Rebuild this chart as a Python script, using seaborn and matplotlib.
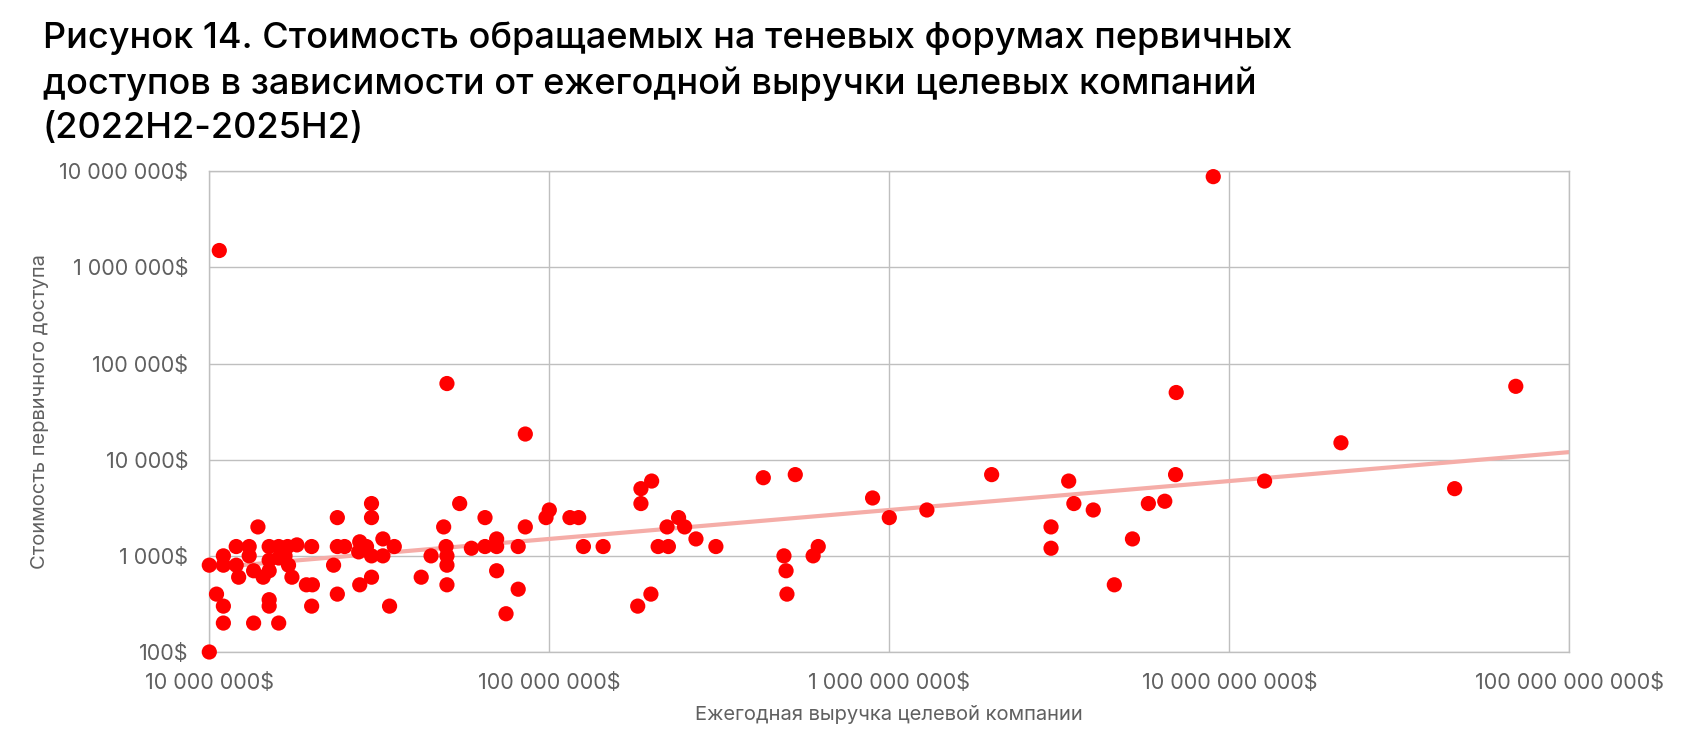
import numpy as np
import pandas as pd
import matplotlib
matplotlib.use("Agg")
import matplotlib.pyplot as plt
import seaborn as sns

# Annual revenue of target company ($) and price of initial access ($)
revenue = [
    1.0e7, 1.0e7, 1.05e7, 1.07e7, 1.1e7, 1.1e7, 1.1e7, 1.1e7, 1.2e7, 1.2e7,
    1.22e7, 1.31e7, 1.31e7, 1.39e7, 1.35e7, 1.35e7, 1.44e7, 1.5e7, 1.5e7, 1.5e7,
    1.5e7, 1.5e7, 1.6e7, 1.6e7, 1.6e7, 1.67e7, 1.71e7, 1.75e7, 1.7e7, 1.81e7,
    2.0e7, 1.93e7, 2.01e7, 2.0e7, 2.32e7, 2.38e7, 2.38e7, 2.38e7, 2.5e7, 2.77e7,
    2.77e7, 2.75e7, 2.9e7, 3.0e7, 3.0e7, 3.0e7, 3.0e7, 3.24e7, 3.24e7, 3.39e7,
    3.5e7,
    5.45e7, 4.89e7, 4.97e7, 5.0e7, 5.0e7, 5.0e7, 4.49e7, 4.2e7, 5.9e7, 6.47e7,
    6.47e7, 7.0e7, 7.0e7, 7.0e7, 7.46e7, 8.1e7, 8.1e7, 8.5e7, 9.78e7, 1.0e8,
    1.15e8, 1.22e8, 1.26e8, 5.0e7, 8.5e7,
    1.44e8, 1.82e8, 1.99e8, 1.86e8, 2.0e8, 1.86e8, 2.09e8, 2.24e8, 2.22e8, 2.4e8,
    2.5e8, 2.7e8, 3.09e8, 4.26e8, 5.29e8, 4.9e8, 4.97e8, 5.0e8, 5.97e8, 6.18e8,
    8.93e8, 1.0e9,
    1.29e9, 2.0e9, 2.99e9, 2.99e9, 3.37e9, 3.49e9, 3.98e9, 4.59e9, 5.19e9, 5.78e9,
    6.46e9, 6.95e9, 6.98e9, 1.27e10, 2.13e10, 4.6e10, 6.96e10, 8.97e9,
]
price = [
    100, 800, 400, 1500000, 300, 200, 800, 1000, 1250, 800,
    600, 1250, 1000, 2000, 700, 200, 600, 1250, 900, 350,
    300, 700, 1250, 950, 200, 1000, 800, 600, 1250, 1300,
    1250, 500, 500, 300, 800, 2500, 1250, 400, 1250, 1400,
    500, 1100, 1250, 3500, 2500, 1000, 600, 1500, 1000, 300,
    1250,
    3500, 2000, 1250, 1000, 800, 500, 1000, 600, 1200, 2500,
    1250, 1500, 1250, 700, 250, 450, 1250, 2000, 2500, 3000,
    2500, 2500, 1250, 62000, 18500,
    1250, 300, 400, 5000, 6000, 3500, 1250, 1250, 2000, 2500,
    2000, 1500, 1250, 6500, 7000, 1000, 700, 400, 1000, 1250,
    4000, 2500,
    3000, 7000, 2000, 1200, 6000, 3500, 3000, 500, 1500, 3500,
    3700, 7000, 50000, 6000, 15000, 5000, 58000, 8800000,
]

# power trend line as drawn in the source chart (values at the axis ends)
trend_revenue = [1e7, 1e11]
trend_price = [750, 12000]

x_ticks = [1e7, 1e8, 1e9, 1e10, 1e11]
x_tick_labels = ["10 000 000$", "100 000 000$", "1 000 000 000$",
                 "10 000 000 000$", "100 000 000 000$"]
y_ticks = [1e2, 1e3, 1e4, 1e5, 1e6, 1e7]
y_tick_labels = ["100$", "1 000$", "10 000$", "100 000$", "1 000 000$", "10 000 000$"]

title = ("Рисунок 14. Стоимость обращаемых на теневых форумах первичных\n"
         "доступов в зависимости от ежегодной выручки целевых компаний\n"
         "(2022H2-2025H2)")
x_label = "Ежегодная выручка целевой компании"
y_label = "Стоимость первичного доступа"

sns.set_theme(style="white")
plt.rcParams['font.family'] = ['Inter', 'DejaVu Sans']

GRID = "#BFBFBF"
TXT = "#606060"

fig = plt.figure(figsize=(16.88, 7.53), dpi=100)
ax = fig.add_axes([209.3 / 1688, 1 - 652 / 753, 1360 / 1688, 480.7 / 753])

df = pd.DataFrame({"revenue": revenue, "price": price})
trend = pd.DataFrame({"revenue": trend_revenue, "price": trend_price})

ax.set_xscale("log")
ax.set_yscale("log")
sns.lineplot(data=trend, x="revenue", y="price", ax=ax, color="#F5ADA8",
             linewidth=3, zorder=2)
sns.scatterplot(data=df, x="revenue", y="price", ax=ax, color="#FF0000",
                s=120, edgecolor="none", linewidth=0, zorder=3, clip_on=False)

ax.set_xlim(x_ticks[0], x_ticks[-1])
ax.set_ylim(y_ticks[0], y_ticks[-1])
ax.set_xticks(x_ticks)
ax.set_xticklabels(x_tick_labels)
ax.set_yticks(y_ticks)
ax.set_yticklabels(y_tick_labels)
ax.minorticks_off()
ax.tick_params(axis="both", length=0, labelsize=15.5, labelcolor=TXT)
ax.tick_params(axis="x", pad=15)
ax.tick_params(axis="y", pad=15)
ax.grid(True, which="major", color=GRID, linewidth=1)
for s in ax.spines.values():
    s.set_visible(True)
    s.set_color(GRID)
    s.set_linewidth(1)

ax.set_xlabel(x_label, fontsize=14.5, color=TXT)
ax.set_ylabel(y_label, fontsize=14.5, color=TXT)
ax.xaxis.set_label_coords(0.5, (652 - 715) / 480.7)
ax.xaxis.label.set_va("center")
ax.yaxis.set_label_coords((40 - 209.3) / 1360, 0.5)
ax.yaxis.label.set_va("center")

fig.text(43 / 1688, 1 - 21 / 753, title, ha="left", va="top",
         fontsize=26, fontweight=500, color="black", linespacing=1.43)

fig.savefig("out.png", dpi=100)
